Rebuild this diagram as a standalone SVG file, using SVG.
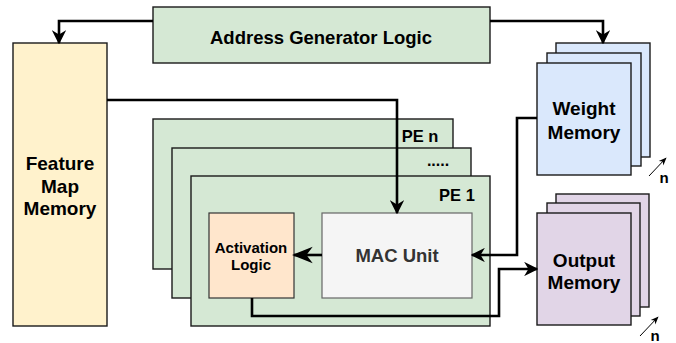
<svg xmlns="http://www.w3.org/2000/svg" width="676" height="343" viewBox="0 0 676 343">
<defs>
<style>
.box{stroke:#1a1a1a;stroke-width:1.4}
.green{fill:#d5e8d4}
.yellow{fill:#fff2cc}
.blue{fill:#dae8fc}
.purple{fill:#e1d5e7}
.orange{fill:#ffe6cc;stroke:#333;stroke-width:1.2}
.gray{fill:#f5f5f5;stroke:#666;stroke-width:1.2}
.t{font-family:"Liberation Sans",Arial,sans-serif;font-weight:bold;fill:#000;text-anchor:middle}
.conn{fill:none;stroke:#000;stroke-width:2.6}
.thin{fill:none;stroke:#000;stroke-width:1}
</style>
<marker id="ah" viewBox="0 0 10 10" refX="9" refY="5" markerWidth="5.5" markerHeight="5.5" markerUnits="strokeWidth" orient="auto">
<path d="M0,0 L10,5 L0,10 L3,5 Z" fill="#000"/>
</marker>
<marker id="ahs" viewBox="0 0 10 10" refX="9" refY="5" markerWidth="8" markerHeight="8" markerUnits="strokeWidth" orient="auto">
<path d="M0,1 L10,5 L0,9 L3,5 Z" fill="#000"/>
</marker>
</defs>

<g id="address-generator">
<rect class="box green" x="153" y="7" width="337" height="56"/>
<text class="t" x="321" y="44" font-size="18.5">Address Generator Logic</text>
</g>

<g id="feature-map-memory">
<rect class="box yellow" x="13" y="43" width="94" height="283"/>
<text class="t" x="60" y="170" font-size="19">Feature</text>
<text class="t" x="60" y="193" font-size="19">Map</text>
<text class="t" x="60" y="215" font-size="19">Memory</text>
</g>

<g id="weight-memory">
<rect class="box blue" x="556" y="43" width="94" height="114"/>
<rect class="box blue" x="547" y="53" width="94" height="113"/>
<rect class="box blue" x="537" y="63" width="94" height="112"/>
<text class="t" x="584" y="115" font-size="19">Weight</text>
<text class="t" x="584" y="139" font-size="19">Memory</text>
<line class="thin" x1="649" y1="176" x2="666" y2="158" marker-end="url(#ahs)"/>
<text class="t" x="664" y="183" font-size="15">n</text>
</g>

<g id="output-memory">
<rect class="box purple" x="556" y="194" width="93" height="113"/>
<rect class="box purple" x="547" y="203" width="93" height="113"/>
<rect class="box purple" x="537" y="213" width="94" height="112"/>
<text class="t" x="584" y="267" font-size="19">Output</text>
<text class="t" x="584" y="289" font-size="19">Memory</text>
<line class="thin" x1="640" y1="336" x2="658" y2="317" marker-end="url(#ahs)"/>
<text class="t" x="655" y="341" font-size="15">n</text>
</g>

<g id="pe-n">
<rect class="box green" x="153" y="119" width="300" height="150"/>
<text class="t" x="420" y="142" font-size="16.5">PE n</text>
</g>

<g id="pe-mid">
<rect class="box green" x="172" y="148" width="299" height="150"/>
<text class="t" x="438" y="166" font-size="16">.....</text>
</g>

<g id="pe-1">
<rect class="box green" x="191" y="176" width="299" height="150"/>
<text class="t" x="457" y="201" font-size="16.5">PE 1</text>
</g>

<g id="activation-logic">
<rect class="orange" x="209" y="213" width="85" height="85"/>
<text class="t" x="251" y="253" font-size="15">Activation</text>
<text class="t" x="251" y="270" font-size="15">Logic</text>
</g>

<g id="mac-unit">
<rect class="gray" x="322" y="213" width="150" height="85"/>
<text class="t" x="397" y="262" font-size="18.5" style="fill:#333">MAC Unit</text>
</g>

<g id="connectors">
<polyline class="conn" points="153,21 59,21 59,43" marker-end="url(#ah)"/>
<polyline class="conn" points="490,21 603,21 603,43" marker-end="url(#ah)"/>
<polyline class="conn" points="107,100 397,100 397,213" marker-end="url(#ah)"/>
<polyline class="conn" points="537,118 517,118 517,255 472,255" marker-end="url(#ah)"/>
<line class="conn" x1="322" y1="255" x2="294" y2="255" stroke-width="1.6" marker-end="url(#ahs)"/>
<polyline class="conn" points="252,298 252,316 499,316 499,269 537,269" marker-end="url(#ah)"/>
</g>
</svg>
